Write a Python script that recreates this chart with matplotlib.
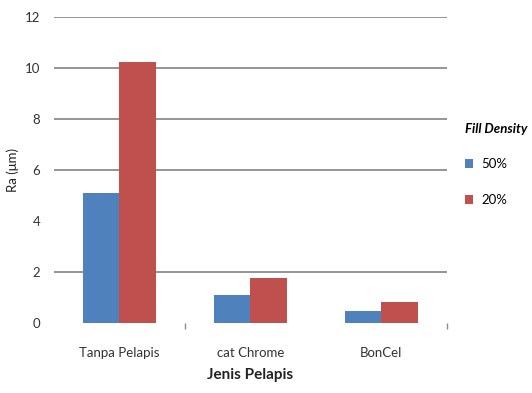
import matplotlib
matplotlib.use("Agg")
import matplotlib.pyplot as plt
import numpy as np

categories = ["Tanpa Pelapis", "cat Chrome", "BonCel"]
series_names = ["50%", "20%"]
values_50 = [5.1, 1.08, 0.48]
values_20 = [10.25, 1.76, 0.83]
yticks = [0, 2, 4, 6, 8, 10, 12]
grid_levels = [2, 6, 8, 10, 12]

plt.rcParams['font.family'] = ['Lato', 'DejaVu Sans']

fig = plt.figure(figsize=(5.32, 3.93), dpi=100)
ax = fig.add_axes([0.1015, 0.178, 0.7385, 0.779])

x = np.arange(len(categories))
w = 0.28
ax.bar(x - w/2, values_50, w, color="#4f81bd", label=series_names[0], zorder=3)
ax.bar(x + w/2, values_20, w, color="#c0504d", label=series_names[1], zorder=3)

for g in grid_levels:
    ax.axhline(g, color="#8c8c8c", lw=1.3, zorder=1)

ax.set_xlim(-0.5, 2.5)
ax.set_ylim(0, 12)
ax.set_yticks(yticks)
ax.set_yticklabels([str(t) for t in yticks], fontsize=9.5, color="#333333")
ax.tick_params(axis='y', length=0, pad=10)
ax.set_xticks(x)
ax.set_xticklabels(categories, fontsize=9.5, color="#333333")
ax.tick_params(axis='x', length=0, pad=17)
ax.set_xticks([0.5, 2.5], minor=True)
ax.tick_params(axis='x', which='minor', length=4, width=1, color="#8c8c8c", direction='out')

for s in ax.spines.values():
    s.set_visible(False)

ax.set_xlabel("Jenis Pelapis", fontsize=11, fontweight='bold', color="#222222", labelpad=7)
ax.set_ylabel("Ra (μm)", fontsize=9.5, color="#222222", labelpad=4)

leg = ax.legend(loc='upper left', bbox_to_anchor=(0.855, 0.715), bbox_transform=fig.transFigure,
                frameon=False, title="Fill Density", fontsize=9.5,
                handlelength=0.6, handleheight=0.6, labelspacing=1.8, handletextpad=0.6,
                borderpad=0.3, alignment='left',
                title_fontproperties={'weight': 'bold', 'style': 'italic', 'size': 9.5})

fig.savefig("out.png", dpi=100)
